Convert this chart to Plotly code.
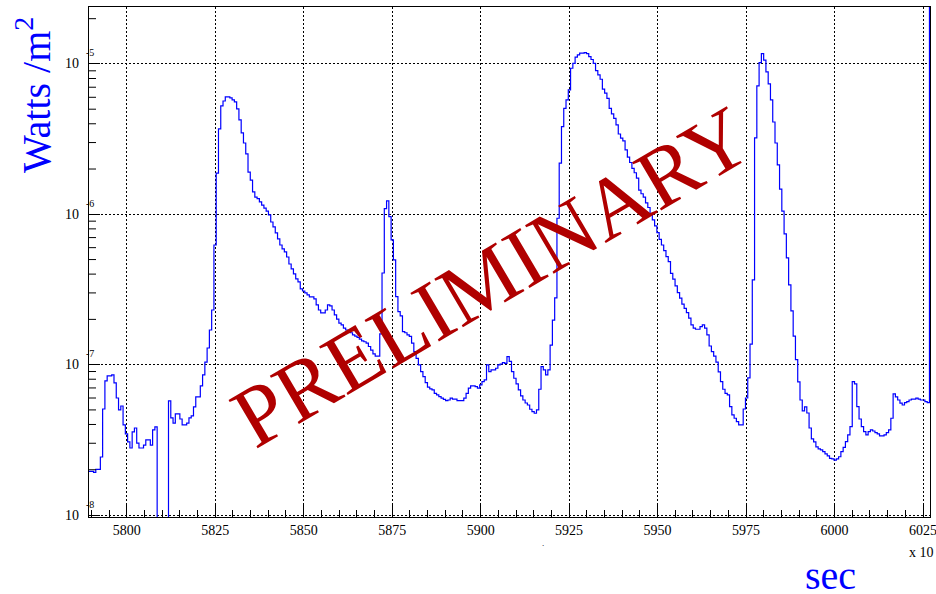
import numpy as np
import plotly.graph_objects as go

# Binned irradiance time series (W/m^2), one value per bin
t_start = 5789.35          # first bin edge (x 10^3 s)
bin_width = 0.6418         # bin width (x 10^3 s)
flux = [
    1.95e-8, 1.95e-8, 1.92e-8, 2.01e-8, 2.01e-8, 2.43e-8, 5.07e-8, 7.79e-8, 8.41e-8, 8.41e-8,
    8.54e-8, 7.56e-8, 6.00e-8, 5.00e-8, 5.31e-8, 3.97e-8, 3.46e-8, 3.06e-8, 2.79e-8, 3.57e-8,
    3.79e-8, 3.01e-8, 2.79e-8, 2.79e-8, 2.92e-8, 3.16e-8, 3.16e-8, 2.92e-8, 3.68e-8, 3.85e-8,
    0.0, 0.0, 0.0, 0.0, 0.0, 5.74e-8, 4.42e-8, 4.09e-8, 4.70e-8, 4.70e-8,
    4.35e-8, 3.97e-8, 3.97e-8, 4.09e-8, 4.42e-8, 4.56e-8, 5.23e-8, 6.10e-8, 6.10e-8, 7.22e-8,
    8.54e-8, 1.04e-7, 1.29e-7, 1.70e-7, 2.31e-7, 6.25e-7, 1.88e-6, 3.70e-6, 5.26e-6, 5.67e-6,
    6.03e-6, 6.03e-6, 5.94e-6, 5.76e-6, 5.59e-6, 5.02e-6, 4.24e-6, 3.48e-6, 2.98e-6, 2.52e-6,
    1.91e-6, 1.69e-6, 1.41e-6, 1.30e-6, 1.27e-6, 1.21e-6, 1.15e-6, 1.10e-6, 1.05e-6, 9.90e-7,
    8.89e-7, 8.24e-7, 7.52e-7, 6.86e-7, 6.25e-7, 5.88e-7, 5.62e-7, 5.20e-7, 4.67e-7, 4.33e-7,
    4.01e-7, 3.72e-7, 3.55e-7, 3.19e-7, 3.09e-7, 3.00e-7, 2.91e-7, 2.82e-7, 2.82e-7, 2.74e-7,
    2.50e-7, 2.31e-7, 2.21e-7, 2.21e-7, 2.31e-7, 2.50e-7, 2.46e-7, 2.31e-7, 2.14e-7, 2.01e-7,
    1.89e-7, 1.84e-7, 1.75e-7, 1.70e-7, 1.68e-7, 1.63e-7, 1.58e-7, 1.55e-7, 1.52e-7, 1.48e-7,
    1.44e-7, 1.42e-7, 1.39e-7, 1.32e-7, 1.25e-7, 1.18e-7, 1.14e-7, 1.14e-7, 1.60e-7, 4.07e-7,
    1.09e-6, 1.23e-6, 9.65e-7, 6.75e-7, 4.97e-7, 2.83e-7, 2.25e-7, 2.11e-7, 1.66e-7, 1.63e-7,
    1.58e-7, 1.54e-7, 1.39e-7, 1.22e-7, 1.10e-7, 9.95e-8, 8.98e-8, 8.32e-8, 7.59e-8, 7.08e-8,
    6.89e-8, 6.79e-8, 6.45e-8, 6.29e-8, 6.13e-8, 5.98e-8, 5.87e-8, 5.76e-8, 5.82e-8, 5.98e-8,
    5.89e-8, 5.89e-8, 5.76e-8, 5.76e-8, 5.76e-8, 5.98e-8, 6.45e-8, 6.97e-8, 7.22e-8, 7.22e-8,
    7.14e-8, 6.97e-8, 7.33e-8, 7.71e-8, 7.91e-8, 9.95e-8, 8.98e-8, 9.22e-8, 9.22e-8, 9.46e-8,
    9.95e-8, 1.01e-7, 1.03e-7, 1.02e-7, 1.13e-7, 1.05e-7, 8.98e-8, 8.12e-8, 7.44e-8, 6.79e-8,
    6.19e-8, 5.82e-8, 5.56e-8, 5.39e-8, 5.05e-8, 4.87e-8, 4.75e-8, 5.00e-8, 6.86e-8, 9.70e-8,
    9.22e-8, 8.54e-8, 9.22e-8, 1.35e-7, 1.98e-7, 2.78e-7, 9.41e-7, 2.19e-6, 3.83e-6, 5.07e-6,
    5.76e-6, 6.72e-6, 9.36e-6, 1.01e-5, 1.11e-5, 1.15e-5, 1.18e-5, 1.18e-5, 1.19e-5, 1.17e-5,
    1.12e-5, 1.07e-5, 1.01e-5, 9.03e-6, 8.45e-6, 7.91e-6, 6.79e-6, 6.39e-6, 5.91e-6, 5.07e-6,
    4.65e-6, 4.35e-6, 3.93e-6, 3.42e-6, 3.21e-6, 3.08e-6, 2.68e-6, 2.40e-6, 2.21e-6, 2.02e-6,
    1.89e-6, 1.74e-6, 1.45e-6, 1.37e-6, 1.30e-6, 1.19e-6, 1.11e-6, 1.00e-6, 9.17e-7, 8.37e-7,
    7.55e-7, 6.82e-7, 6.25e-7, 5.73e-7, 5.23e-7, 4.84e-7, 4.05e-7, 3.70e-7, 3.34e-7, 3.01e-7,
    2.77e-7, 2.53e-7, 2.37e-7, 2.22e-7, 2.04e-7, 1.84e-7, 1.75e-7, 1.72e-7, 1.72e-7, 1.79e-7,
    1.84e-7, 1.75e-7, 1.58e-7, 1.33e-7, 1.22e-7, 1.14e-7, 1.04e-7, 8.94e-8, 7.71e-8, 6.86e-8,
    6.45e-8, 6.29e-8, 5.26e-8, 4.63e-8, 4.40e-8, 4.18e-8, 3.97e-8, 3.97e-8, 5.07e-8, 6.00e-8,
    8.16e-8, 1.37e-7, 3.66e-7, 3.22e-6, 7.14e-6, 1.02e-5, 1.17e-5, 1.06e-5, 8.85e-6, 7.36e-6,
    5.76e-6, 4.11e-6, 2.98e-6, 2.13e-6, 1.47e-6, 1.05e-6, 7.40e-7, 5.13e-7, 3.39e-7, 2.28e-7,
    1.55e-7, 1.08e-7, 7.67e-8, 5.82e-8, 4.92e-8, 5.23e-8, 4.77e-8, 3.79e-8, 3.21e-8, 3.06e-8,
    2.84e-8, 2.75e-8, 2.71e-8, 2.64e-8, 2.55e-8, 2.47e-8, 2.38e-8, 2.36e-8, 2.32e-8, 2.36e-8,
    2.44e-8, 2.64e-8, 2.82e-8, 3.08e-8, 3.41e-8, 3.87e-8, 7.71e-8, 7.44e-8, 5.26e-8, 4.35e-8,
    3.87e-8, 3.58e-8, 3.41e-8, 3.58e-8, 3.68e-8, 3.62e-8, 3.53e-8, 3.46e-8, 3.36e-8, 3.36e-8,
    3.41e-8, 3.53e-8, 3.68e-8, 4.40e-8, 6.39e-8, 6.10e-8, 5.82e-8, 5.54e-8, 5.39e-8, 5.59e-8,
    5.67e-8, 5.82e-8, 5.89e-8, 5.89e-8, 5.98e-8, 5.89e-8, 5.82e-8, 5.82e-8, 5.67e-8, 5.59e-8,
]
overflow = 5.0e-4          # content beyond the last bin

x_tick_values = [5800, 5825, 5850, 5875, 5900, 5925, 5950, 5975, 6000, 6025]
x_tick_labels = ["5800", "5825", "5850", "5875", "5900", "5925", "5950", "5975", "6000", "6025"]
y_decades = [-8, -7, -6, -5]

# ---------------------------------------------------------------------------
SERIF = "Liberation Serif, Times New Roman, serif"
BLUE = "#0000ff"

n_bins = len(flux)
edges = t_start + bin_width * np.arange(n_bins + 1)
# a hair of room after the last edge so the closing vertical stays visible
x_range = [edges[0], edges[-1] + 0.15]
y_range = [-8.0133, -4.6213]

vals = np.array(flux, dtype=float)
# empty bins fall to the bottom of the log scale
vals = np.where(vals > 0, vals, 1e-12)
step_x = list(edges) + [edges[-1]]
step_y = list(vals) + [vals[-1], overflow]

fig = go.Figure()
fig.add_trace(go.Scatter(
    x=step_x, y=step_y, mode="lines", line_shape="hv",
    line=dict(color=BLUE, width=1.2), hoverinfo="skip", showlegend=False,
))

# minor log ticks on the left axis (2..9 per decade)
shapes = []
for e in range(-9, -4):
    for m in range(2, 10):
        v = m * 10.0 ** e
        lv = np.log10(v)
        if y_range[0] < lv < y_range[1]:
            shapes.append(dict(type="line", xref="paper", yref="y",
                               x0=0, x1=7 / 841, y0=v, y1=v,
                               line=dict(color="black", width=1)))

annotations = []
for e in y_decades:
    annotations.append(dict(x=0, xref="paper", y=e, yref="y", text="10",
                            xanchor="right", yanchor="middle", xshift=-8,
                            showarrow=False, font=dict(family=SERIF, size=14, color="black")))
    annotations.append(dict(x=0, xref="paper", y=e, yref="y", text=str(e),
                            xanchor="left", yanchor="middle", xshift=-5, yshift=11,
                            showarrow=False, font=dict(family=SERIF, size=10, color="black")))

annotations += [
    dict(x=0, xref="paper", y=1, yref="paper", xshift=-56, yshift=-88,
         text="Watts /m<sup>2</sup>", textangle=-90, showarrow=False,
         xanchor="center", yanchor="middle",
         font=dict(family=SERIF, size=40, color=BLUE)),
    dict(x=1, xref="paper", y=0, yref="paper", xshift=-100, yshift=-58,
         text="sec", showarrow=False, xanchor="center", yanchor="middle",
         font=dict(family=SERIF, size=40, color=BLUE)),
    dict(x=1, xref="paper", y=0, yref="paper", xshift=6, yshift=-35,
         text="x 10", showarrow=False, xanchor="right", yanchor="middle",
         font=dict(family=SERIF, size=14, color="black")),
    dict(x=0, xref="paper", y=0, yref="paper", xshift=454, yshift=-26,
         text=".", showarrow=False, xanchor="center", yanchor="middle",
         font=dict(family=SERIF, size=9, color="black")),
    dict(x=0, xref="paper", y=1, yref="paper", xshift=402, yshift=-270,
         text="PRELIMINARY", textangle=-30.5, showarrow=False,
         xanchor="center", yanchor="middle",
         font=dict(family=SERIF, size=86, color="#b00000")),
]

fig.update_layout(
    width=936, height=594,
    margin=dict(l=89, r=6, t=7, b=77, autoexpand=False),
    paper_bgcolor="white", plot_bgcolor="white",
    font=dict(family=SERIF, color="black"),
    shapes=shapes, annotations=annotations,
    xaxis=dict(
        range=x_range, tickmode="array", tickvals=x_tick_values, ticktext=x_tick_labels,
        ticks="inside", ticklen=14, tickcolor="black", tickwidth=1,
        ticklabeloverflow="allow", automargin=False,
        minor=dict(tick0=5800, dtick=5, ticks="inside", ticklen=7,
                   tickcolor="black", tickwidth=1, showgrid=False),
        showgrid=True, gridcolor="black", gridwidth=1, griddash="2px,2px",
        showline=True, linecolor="black", linewidth=1, mirror=True,
        zeroline=False, tickfont=dict(family=SERIF, size=14, color="black"),
    ),
    yaxis=dict(
        type="log", range=y_range, tickmode="array",
        tickvals=[10.0 ** e for e in y_decades],
        ticks="inside", ticklen=11, tickcolor="black", tickwidth=1,
        showticklabels=False, automargin=False,
        showgrid=True, gridcolor="black", gridwidth=1, griddash="2px,2px",
        showline=True, linecolor="black", linewidth=1, mirror=True,
        zeroline=False,
    ),
)

fig.write_html("out.html")
